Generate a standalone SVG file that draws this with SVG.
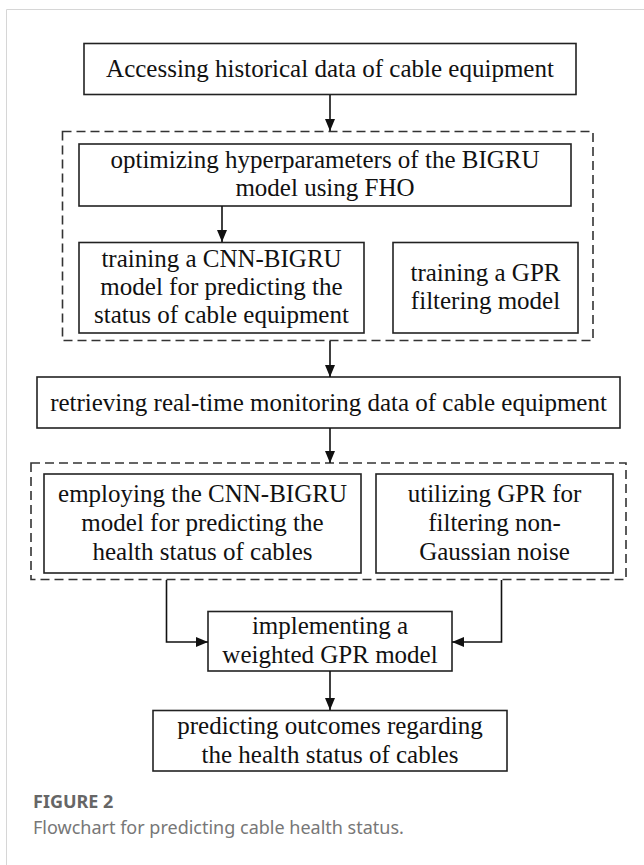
<svg xmlns="http://www.w3.org/2000/svg" width="644" height="865" viewBox="0 0 644 865">
<defs>
<marker id="ah" viewBox="0 0 12 10" refX="12" refY="5" markerWidth="12" markerHeight="10" markerUnits="userSpaceOnUse" orient="auto">
<path d="M0,0 L12,5 L0,10 Z" fill="#111"/>
</marker>
</defs>
<style>
.box{fill:#fff;stroke:#222;stroke-width:1.6}
.dash{fill:none;stroke:#333;stroke-width:1.6;stroke-dasharray:9 5}
.t{font-family:"Liberation Serif","Times New Roman",serif;font-size:25px;fill:#111;text-anchor:middle}
.c{fill:none;stroke:#111;stroke-width:1.6}
.fig{font-family:"Noto Sans","Open Sans",sans-serif;font-size:18px;font-weight:bold;fill:#666}
.cap{font-family:"Noto Sans","Open Sans",sans-serif;font-size:18px;fill:#777}
</style>
<rect width="644" height="865" fill="#fff"/>
<path d="M6.5,865 V9.5 H644" fill="none" stroke="#d6d6d6" stroke-width="1"/>

<g id="group1"><rect class="dash" x="62.5" y="131.5" width="530.5" height="209"/></g>
<g id="group2"><rect class="dash" x="31" y="463" width="595" height="116.5"/></g>

<g id="n1"><rect class="box" x="84" y="43.5" width="492" height="51"/>
<text class="t" x="330" y="77">Accessing historical data of cable equipment</text></g>

<g id="n2"><rect class="box" x="79" y="144" width="492" height="62"/>
<text class="t" x="325" y="168">optimizing hyperparameters of the BIGRU</text>
<text class="t" x="325" y="196">model using FHO</text></g>

<g id="n3"><rect class="box" x="79" y="242.5" width="285" height="90.5"/>
<text class="t" x="221.5" y="267">training a CNN-BIGRU</text>
<text class="t" x="221.5" y="295">model for predicting the</text>
<text class="t" x="221.5" y="323">status of cable equipment</text></g>

<g id="n4"><rect class="box" x="393" y="242.5" width="185" height="90.5"/>
<text class="t" x="485.5" y="281">training a GPR</text>
<text class="t" x="485.5" y="309">filtering model</text></g>

<g id="n5"><rect class="box" x="37" y="377" width="583" height="51"/>
<text class="t" x="328.5" y="411">retrieving real-time monitoring data of cable equipment</text></g>

<g id="n6"><rect class="box" x="44" y="474" width="317" height="99"/>
<text class="t" x="202.5" y="502">employing the CNN-BIGRU</text>
<text class="t" x="202.5" y="531">model for predicting the</text>
<text class="t" x="202.5" y="560">health status of cables</text></g>

<g id="n7"><rect class="box" x="376" y="474" width="237" height="99"/>
<text class="t" x="494.5" y="502">utilizing GPR for</text>
<text class="t" x="494.5" y="531">filtering non-</text>
<text class="t" x="494.5" y="560">Gaussian noise</text></g>

<g id="n8"><rect class="box" x="208" y="611.5" width="244" height="59.5"/>
<text class="t" x="330" y="634">implementing a</text>
<text class="t" x="330" y="663">weighted GPR model</text></g>

<g id="n9"><rect class="box" x="153" y="710.5" width="354" height="60.5"/>
<text class="t" x="330" y="734">predicting outcomes regarding</text>
<text class="t" x="330" y="763">the health status of cables</text></g>

<g id="connectors">
<path class="c" d="M330,95 V131" marker-end="url(#ah)"/>
<path class="c" d="M222,206 V242" marker-end="url(#ah)"/>
<path class="c" d="M330,341 V377" marker-end="url(#ah)"/>
<path class="c" d="M330,428 V463" marker-end="url(#ah)"/>
<path class="c" d="M166.5,580 V642 H208" marker-end="url(#ah)"/>
<path class="c" d="M501.5,580 V642 H452" marker-end="url(#ah)"/>
<path class="c" d="M330,671 V710" marker-end="url(#ah)"/>
</g>

<text class="fig" x="33" y="808">FIGURE 2</text>
<text class="cap" x="33" y="834">Flowchart for predicting cable health status.</text>
</svg>
